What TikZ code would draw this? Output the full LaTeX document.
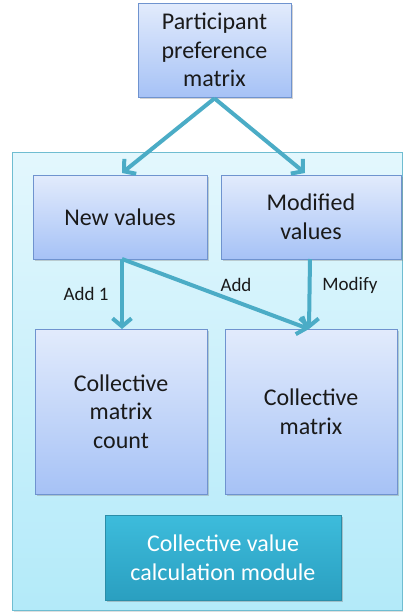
\documentclass[tikz,border=0pt]{standalone}
\usepackage{fontspec}
\setmainfont{Carlito}
\usetikzlibrary{arrows.meta,shadows,calc}
\definecolor{flow}{HTML}{4BACC6}
\definecolor{boxtop}{HTML}{E2EBFC}
\definecolor{boxbot}{HTML}{A6C2F6}
\definecolor{boxline}{HTML}{6F93CF}
\definecolor{paneltop}{HTML}{E3F7FD}
\definecolor{panelbot}{HTML}{B3EAF9}
\definecolor{modtop}{HTML}{3DBCDC}
\definecolor{modbot}{HTML}{2A9FC0}
\definecolor{modline}{HTML}{2A8DA8}
\definecolor{ink}{HTML}{1A1A1A}
\tikzset{
  block/.style={draw=boxline, line width=0.8pt, top color=boxtop, bottom color=boxbot,
    align=center, text=ink, font=\fontsize{24}{28.5}\selectfont, inner sep=0pt,
    drop shadow={shadow xshift=1.5pt, shadow yshift=-1.5pt, opacity=0.35}},
  module/.style={draw=modline, line width=0.8pt, top color=modtop, bottom color=modbot,
    align=center, text=white, font=\fontsize{24}{29}\selectfont, inner sep=0pt,
    drop shadow={shadow xshift=2pt, shadow yshift=-2pt, opacity=0.4}},
  panel/.style={draw=flow!80, line width=0.8pt, top color=paneltop, bottom color=panelbot,
    drop shadow={shadow xshift=1.5pt, shadow yshift=-1.5pt, opacity=0.25}},
  flowline/.style={draw=flow, line width=4pt, -{Straight Barb[length=8pt,width=19pt,line width=4pt]}},
  tag/.style={text=ink, font=\fontsize{19}{22}\selectfont, inner sep=0pt}
}
\begin{document}
\begin{tikzpicture}[x=1pt,y=-1pt]
  \useasboundingbox (0,0) rectangle (403,614);
  % container panel
  \node[panel, minimum width=390pt, minimum height=458pt, inner sep=0pt] (panel) at (207,381) {};
  % boxes
  \node[block, minimum width=153pt, minimum height=94pt] (ppm) at (214.5,50) {Participant\\preference\\matrix};
  \node[block, minimum width=174pt, minimum height=84pt] (newv) at (120,217) {New values};
  \node[block, minimum width=180pt, minimum height=84pt] (modv) at (311,217) {Modified\\values};
  \node[block, minimum width=172pt, minimum height=165pt] (cmc) at (121,411.5) {Collective\\matrix\\count};
  \node[block, minimum width=172pt, minimum height=165pt] (cm) at (311,411.5) {Collective\\matrix};
  \node[module, minimum width=236pt, minimum height=85pt] (calc) at (223,557.5) {Collective value\\calculation module};
  % anchor points for connectors
  \coordinate (split) at ($(ppm.south)+(0,1)$);
  \coordinate (nvin) at (122,173);
  \coordinate (mvin) at (305,173);
  \coordinate (nvout) at (122,259);
  \coordinate (mvout) at (310,259);
  \coordinate (cmcin) at (122,329);
  \coordinate (cmin) at (309,329);
  % connectors
  \draw[flowline] (split) -- (nvin);
  \draw[flowline] (split) -- (mvin);
  \draw[flowline] (nvout) -- (cmcin);
  \draw[flowline] (nvout) -- (cmin);
  \draw[flowline] (mvout) -- (cmin);
  % connector labels
  \node[tag] (l1) at (86,294) {Add 1};
  \node[tag] (l2) at (236,285) {Add};
  \node[tag] (l3) at (350,285) {Modify};
\end{tikzpicture}
\end{document}
